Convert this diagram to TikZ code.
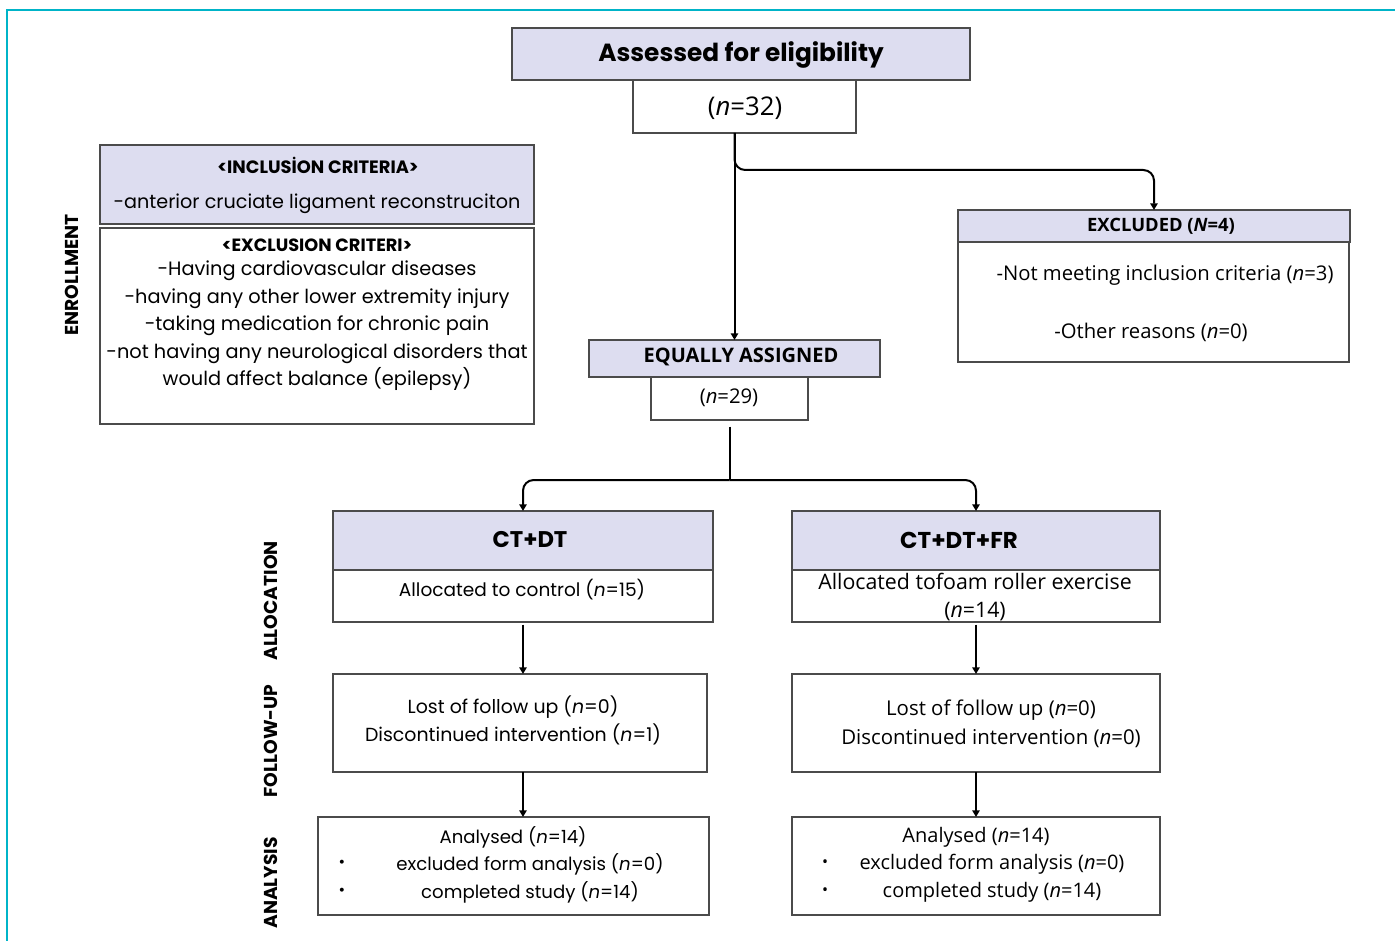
\documentclass[tikz,border=0pt]{standalone}
\usepackage{fontspec}
\setmainfont{Poppins}
\newfontfamily\narrow{Open Sans}
\usetikzlibrary{arrows.meta}
\definecolor{lav}{RGB}{221,221,240}
\definecolor{framec}{RGB}{0,180,200}
\definecolor{edgec}{RGB}{75,75,75}
\tikzset{
  hdbox/.style={draw=edgec, fill=lav, line width=1.2pt, inner sep=0pt, outer sep=0pt},
  bdbox/.style={draw=edgec, fill=white, line width=1.2pt, inner sep=0pt, outer sep=0pt},
  conn/.style={draw=black, line width=1.5pt, -{Triangle[length=5pt,width=5.5pt]}},
  plain/.style={draw=black, line width=1.5pt},
  txt/.style={inner sep=0pt, align=center},
  side/.style={inner sep=0pt, rotate=90, font=\fontsize{14}{16}\selectfont\bfseries}
}
\newcommand\pbox[6]{\node[#6, minimum width={(#4-#2)*0.75pt}, minimum height={(#5-#3)*0.75pt}] (#1) at ({(#2+#4)/2},{(#3+#5)/2}) {};}
\begin{document}
\begin{tikzpicture}[x=0.75pt, y=-0.75pt]
\useasboundingbox (0,0) rectangle (1395,941);
\draw[framec, line width=1.5pt] (7,10) rectangle (1430,980);

% boxes
\pbox{ah}{512}{28}{970}{80}{hdbox}
\pbox{n32}{633}{80}{856}{133}{bdbox}
\pbox{inc}{100}{145}{534}{224}{hdbox}
\pbox{exc}{100}{228}{534}{424}{bdbox}
\pbox{exh}{958}{210}{1350}{242}{hdbox}
\pbox{exb}{958}{242}{1349}{362}{bdbox}
\pbox{eqh}{589}{340}{880}{377}{hdbox}
\pbox{eqb}{651}{377}{808}{420}{bdbox}
\pbox{cth}{333}{511}{713}{570}{hdbox}
\pbox{ctb}{333}{570}{713}{622}{bdbox}
\pbox{frh}{792}{511}{1160}{570}{hdbox}
\pbox{frb}{792}{570}{1160}{622}{bdbox}
\pbox{fuL}{333}{674}{707}{772}{bdbox}
\pbox{fuR}{792}{674}{1160}{772}{bdbox}
\pbox{anL}{318}{817}{709}{915}{bdbox}
\pbox{anR}{792}{817}{1160}{915}{bdbox}

% texts
\node[txt, font=\fontsize{18.6}{21}\selectfont\bfseries] (tah) at (741,55) {Assessed for eligibility};
\node[txt, font=\narrow\fontsize{19.3}{22}\selectfont] (tn32) at (745,108) {(\textit{n}=32)};
\node[txt, font=\fontsize{13.4}{15}\selectfont\bfseries] (tinc1) at (318,165) {<INCLUSİON CRITERIA>};
\node[txt, font=\fontsize{14.4}{16}\selectfont] (tinc2) at (317,204) {-anterior cruciate ligament reconstruciton};
\node[txt, font=\fontsize{13.3}{15}\selectfont\bfseries] (texc1) at (317,245) {<EXCLUSION CRITERI>};
\node[txt, font=\fontsize{14.5}{20.6}\selectfont] (texc2) at (317,326) {-Having cardiovascular diseases\\-having any other lower extremity injury\\ -taking medication for chronic pain\\-not having any neurological disorders that\\would affect balance (epilepsy)};
\node[side] (senr) at (72,275) {ENROLLMENT};
\node[side] (sall) at (271,601) {ALLOCATION};
\node[side] (sfu) at (271,741) {FOLLOW-UP};
\node[side] (san) at (271,883) {ANALYSIS};

\node[txt, font=\narrow\fontsize{13.8}{16}\selectfont\bfseries] (texh) at (1161,226) {EXCLUDED (\textit{N}=4)};
\node[txt, font=\narrow\fontsize{15.2}{18}\selectfont] (texb1) at (1165,275) {-Not meeting inclusion criteria (\textit{n}=3)};
\node[txt, font=\narrow\fontsize{15.2}{18}\selectfont] (texb2) at (1151,332) {-Other reasons (\textit{n}=0)};
\node[txt, font=\narrow\fontsize{15}{17}\selectfont\bfseries] (teqh) at (741,357) {EQUALLY ASSIGNED};
\node[txt, font=\narrow\fontsize{15.2}{17}\selectfont] (teqb) at (729,398) {(\textit{n}=29)};

\node[txt, font=\fontsize{17}{19}\selectfont\bfseries] (tcth) at (530,540) {CT+DT};
\node[txt, font=\fontsize{13.9}{16}\selectfont] (tctb) at (522,590) {Allocated to control (\textit{n}=15)};
\node[txt, font=\fontsize{17.2}{19}\selectfont\bfseries] (tfrh) at (959,540) {CT+DT+FR};
\node[txt, font=\narrow\fontsize{16}{21}\selectfont] (tfrb) at (975,597) {Allocated tofoam roller exercise\\(\textit{n}=14)};

\node[txt, font=\fontsize{14.2}{21}\selectfont] (tfuL) at (513,720) {Lost of follow up (\textit{n}=0)\\Discontinued intervention (\textit{n}=1)};
\node[txt, font=\narrow\fontsize{15.3}{21.7}\selectfont] (tfuR) at (991,724) {Lost of follow up (\textit{n}=0)\\Discontinued intervention (\textit{n}=0)};

\node[txt, font=\fontsize{13.6}{16}\selectfont] (tanL1) at (513,837) {Analysed (\textit{n}=14)};
\node[txt, font=\fontsize{13.6}{16}\selectfont] (tanL2) at (530,864) {excluded form analysis (\textit{n}=0)};
\node[txt, font=\fontsize{13.6}{16}\selectfont] (tanL3) at (530,892) {completed study (\textit{n}=14)};
\node[txt, font=\fontsize{12}{14}\selectfont] (bL1) at (342,864) {•};
\node[txt, font=\fontsize{12}{14}\selectfont] (bL2) at (342,892) {•};
\node[txt, font=\narrow\fontsize{15}{17}\selectfont] (tanR1) at (976,837) {Analysed (\textit{n}=14)};
\node[txt, font=\narrow\fontsize{15}{17}\selectfont] (tanR2) at (992,864) {excluded form analysis (\textit{n}=0)};
\node[txt, font=\narrow\fontsize{15}{17}\selectfont] (tanR3) at (992,892) {completed study (\textit{n}=14)};
\node[txt, font=\narrow\fontsize{12}{14}\selectfont] (bR1) at (825,864) {•};
\node[txt, font=\narrow\fontsize{12}{14}\selectfont] (bR2) at (825,892) {•};

% connectors
\coordinate (split1) at (735,170);
\coordinate (split2) at (734,480);
\draw[conn] (eqh.north |- n32.south) -- (eqh.north);
\draw[conn, rounded corners=8pt] (eqh.north |- n32.south) |- (exh.north |- split1) -- (exh.north);
\draw[plain] ([yshift=-5pt]eqb.south) -- (eqb.south |- split2);
\draw[conn, rounded corners=8pt] (eqb.south |- split2) -| (cth.north);
\draw[conn, rounded corners=8pt] (eqb.south |- split2) -| (frh.north);
\draw[conn] ([yshift=-2pt]ctb.south) -- (ctb.south |- fuL.north);
\draw[conn] ([yshift=-2pt]frb.south) -- (fuR.north);
\draw[conn] (ctb.south |- fuL.south) -- (ctb.south |- anL.north);
\draw[conn] (fuR.south) -- (anR.north);
\end{tikzpicture}
\end{document}
